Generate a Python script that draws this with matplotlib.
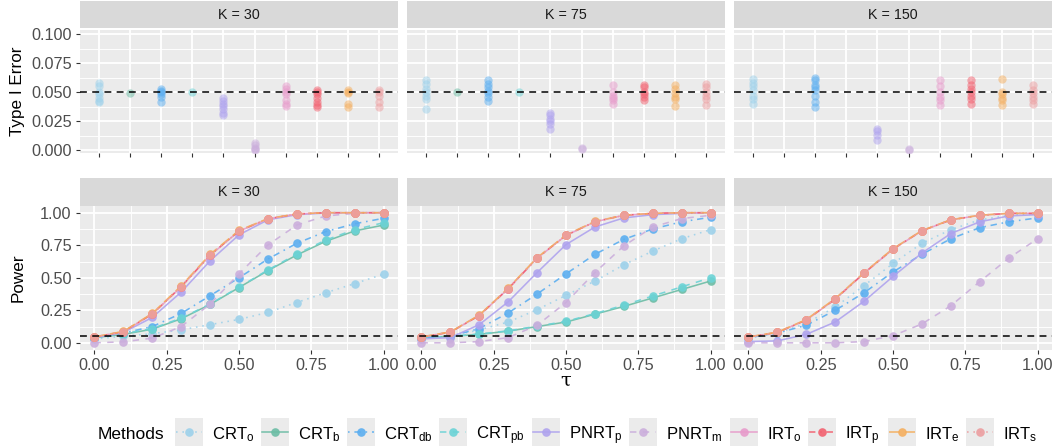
import matplotlib
matplotlib.use("Agg")
import matplotlib.pyplot as plt
from matplotlib.lines import Line2D
from matplotlib.patches import Rectangle

plt.rcParams['font.family'] = ['Liberation Sans', 'DejaVu Sans']
plt.rcParams['mathtext.fontset'] = 'custom'
plt.rcParams['mathtext.rm'] = 'Liberation Sans'
plt.rcParams['mathtext.it'] = 'Liberation Sans:italic'
plt.rcParams['mathtext.bf'] = 'Liberation Sans:bold'

# ---------------- data ----------------
k_values = [30, 75, 150]
methods = ['CRT_o', 'CRT_b', 'CRT_db', 'CRT_pb', 'PNRT_p', 'PNRT_m', 'IRT_o', 'IRT_p', 'IRT_e', 'IRT_s']
method_labels = [r'CRT$_\mathrm{o}$', r'CRT$_\mathrm{b}$', r'CRT$_\mathrm{db}$', r'CRT$_\mathrm{pb}$',
                 r'PNRT$_\mathrm{p}$', r'PNRT$_\mathrm{m}$', r'IRT$_\mathrm{o}$', r'IRT$_\mathrm{p}$',
                 r'IRT$_\mathrm{e}$', r'IRT$_\mathrm{s}$']
tau = [0.0, 0.1, 0.2, 0.3, 0.4, 0.5, 0.6, 0.7, 0.8, 0.9, 1.0]
alpha_level = 0.05

# Type I error (several settings per method)
t1_30_crt_o = [0.058, 0.055, 0.050, 0.048, 0.045, 0.042, 0.041]
t1_30_crt_b = [0.049]
t1_30_crt_db = [0.053, 0.051, 0.050, 0.048, 0.046, 0.041]
t1_30_crt_pb = [0.050]
t1_30_pnrt_p = [0.045, 0.042, 0.040, 0.038, 0.035, 0.032, 0.030]
t1_30_pnrt_m = [0.006, 0.004, 0.002, 0.001, 0.000]
t1_30_irt_o = [0.055, 0.053, 0.050, 0.048, 0.043, 0.040, 0.038]
t1_30_irt_p = [0.052, 0.050, 0.048, 0.045, 0.041, 0.039, 0.037]
t1_30_irt_e = [0.052, 0.050, 0.049, 0.040, 0.037]
t1_30_irt_s = [0.052, 0.050, 0.047, 0.041, 0.037]

t1_75_crt_o = [0.060, 0.057, 0.053, 0.050, 0.047, 0.044, 0.035]
t1_75_crt_b = [0.050]
t1_75_crt_db = [0.060, 0.057, 0.054, 0.051, 0.049, 0.046, 0.042]
t1_75_crt_pb = [0.050]
t1_75_pnrt_p = [0.032, 0.030, 0.027, 0.025, 0.022, 0.018]
t1_75_pnrt_m = [0.001, 0.002]
t1_75_irt_o = [0.056, 0.050, 0.047, 0.045, 0.043, 0.040]
t1_75_irt_p = [0.056, 0.054, 0.050, 0.048, 0.046, 0.043]
t1_75_irt_e = [0.056, 0.053, 0.049, 0.046, 0.044, 0.038]
t1_75_irt_s = [0.057, 0.054, 0.050, 0.047, 0.044, 0.039]

t1_150_crt_o = [0.061, 0.058, 0.055, 0.052, 0.047, 0.044, 0.040]
t1_150_crt_b = []
t1_150_crt_db = [0.062, 0.060, 0.056, 0.054, 0.052, 0.047, 0.041, 0.037]
t1_150_crt_pb = []
t1_150_pnrt_p = [0.018, 0.016, 0.013, 0.009]
t1_150_pnrt_m = [0.000, 0.001]
t1_150_irt_o = [0.060, 0.055, 0.050, 0.046, 0.043, 0.039]
t1_150_irt_p = [0.060, 0.056, 0.053, 0.050, 0.047, 0.044, 0.040]
t1_150_irt_e = [0.061, 0.050, 0.048, 0.045, 0.043, 0.039]
t1_150_irt_s = [0.056, 0.052, 0.049, 0.046, 0.043, 0.040]

# Power curves
pw_30_crt_o = [0.030, 0.050, 0.070, 0.100, 0.140, 0.180, 0.234, 0.310, 0.385, 0.455, 0.528]
pw_30_crt_b = [0.040, 0.065, 0.105, 0.185, 0.295, 0.425, 0.555, 0.675, 0.780, 0.860, 0.905]
pw_30_crt_db = [0.040, 0.075, 0.125, 0.226, 0.362, 0.500, 0.644, 0.765, 0.855, 0.915, 0.957]
pw_30_crt_pb = [0.040, 0.070, 0.110, 0.190, 0.298, 0.428, 0.560, 0.682, 0.790, 0.870, 0.923]
pw_30_pnrt_p = [0.040, 0.080, 0.195, 0.390, 0.630, 0.830, 0.945, 0.985, 0.998, 1.000, 1.000]
pw_30_pnrt_m = [0.000, 0.008, 0.036, 0.125, 0.298, 0.530, 0.752, 0.905, 0.975, 0.995, 1.000]
pw_30_irt_o = [0.045, 0.085, 0.220, 0.430, 0.672, 0.858, 0.952, 0.990, 1.000, 1.000, 1.000]
pw_30_irt_p = [0.045, 0.086, 0.222, 0.432, 0.674, 0.860, 0.953, 0.990, 1.000, 1.000, 1.000]
pw_30_irt_e = [0.046, 0.088, 0.226, 0.438, 0.680, 0.864, 0.955, 0.991, 1.000, 1.000, 1.000]
pw_30_irt_s = [0.045, 0.086, 0.222, 0.432, 0.674, 0.860, 0.953, 0.990, 1.000, 1.000, 1.000]

pw_75_crt_o = [0.040, 0.050, 0.100, 0.160, 0.255, 0.365, 0.475, 0.600, 0.705, 0.800, 0.870]
pw_75_crt_b = [0.040, 0.050, 0.065, 0.090, 0.125, 0.160, 0.220, 0.280, 0.345, 0.410, 0.475]
pw_75_crt_db = [0.040, 0.050, 0.110, 0.230, 0.375, 0.530, 0.680, 0.795, 0.875, 0.930, 0.965]
pw_75_crt_pb = [0.040, 0.050, 0.068, 0.092, 0.128, 0.165, 0.225, 0.290, 0.360, 0.430, 0.500]
pw_75_pnrt_p = [0.030, 0.040, 0.140, 0.315, 0.540, 0.755, 0.890, 0.960, 0.985, 0.995, 1.000]
pw_75_pnrt_m = [0.000, 0.000, 0.010, 0.040, 0.135, 0.310, 0.540, 0.745, 0.890, 0.955, 0.980]
pw_75_irt_o = [0.045, 0.082, 0.210, 0.415, 0.650, 0.825, 0.930, 0.980, 0.995, 1.000, 1.000]
pw_75_irt_p = [0.045, 0.082, 0.210, 0.416, 0.651, 0.826, 0.931, 0.980, 0.995, 1.000, 1.000]
pw_75_irt_e = [0.046, 0.084, 0.214, 0.420, 0.655, 0.829, 0.933, 0.981, 0.995, 1.000, 1.000]
pw_75_irt_s = [0.045, 0.082, 0.210, 0.416, 0.651, 0.826, 0.931, 0.980, 0.995, 1.000, 1.000]

pw_150_crt_o = [0.040, 0.075, 0.150, 0.275, 0.440, 0.610, 0.765, 0.870, 0.945, 0.980, 0.995]
pw_150_crt_b = []
pw_150_crt_db = [0.040, 0.075, 0.135, 0.250, 0.385, 0.545, 0.680, 0.800, 0.885, 0.930, 0.960]
pw_150_crt_pb = []
pw_150_pnrt_p = [0.010, 0.015, 0.065, 0.160, 0.320, 0.510, 0.690, 0.840, 0.930, 0.975, 0.985]
pw_150_pnrt_m = [0.000, 0.000, 0.000, 0.000, 0.010, 0.055, 0.145, 0.285, 0.470, 0.650, 0.800]
pw_150_irt_o = [0.045, 0.080, 0.175, 0.335, 0.535, 0.720, 0.860, 0.945, 0.980, 0.995, 0.995]
pw_150_irt_p = [0.045, 0.080, 0.176, 0.336, 0.536, 0.721, 0.861, 0.945, 0.980, 0.995, 0.995]
pw_150_irt_e = [0.046, 0.082, 0.179, 0.340, 0.540, 0.724, 0.863, 0.946, 0.981, 0.995, 0.996]
pw_150_irt_s = [0.045, 0.080, 0.176, 0.336, 0.536, 0.721, 0.861, 0.945, 0.980, 0.995, 0.995]

t1_data = {
    30: [t1_30_crt_o, t1_30_crt_b, t1_30_crt_db, t1_30_crt_pb, t1_30_pnrt_p, t1_30_pnrt_m,
         t1_30_irt_o, t1_30_irt_p, t1_30_irt_e, t1_30_irt_s],
    75: [t1_75_crt_o, t1_75_crt_b, t1_75_crt_db, t1_75_crt_pb, t1_75_pnrt_p, t1_75_pnrt_m,
         t1_75_irt_o, t1_75_irt_p, t1_75_irt_e, t1_75_irt_s],
    150: [t1_150_crt_o, t1_150_crt_b, t1_150_crt_db, t1_150_crt_pb, t1_150_pnrt_p, t1_150_pnrt_m,
          t1_150_irt_o, t1_150_irt_p, t1_150_irt_e, t1_150_irt_s],
}
pw_data = {
    30: [pw_30_crt_o, pw_30_crt_b, pw_30_crt_db, pw_30_crt_pb, pw_30_pnrt_p, pw_30_pnrt_m,
         pw_30_irt_o, pw_30_irt_p, pw_30_irt_e, pw_30_irt_s],
    75: [pw_75_crt_o, pw_75_crt_b, pw_75_crt_db, pw_75_crt_pb, pw_75_pnrt_p, pw_75_pnrt_m,
         pw_75_irt_o, pw_75_irt_p, pw_75_irt_e, pw_75_irt_s],
    150: [pw_150_crt_o, pw_150_crt_b, pw_150_crt_db, pw_150_crt_pb, pw_150_pnrt_p, pw_150_pnrt_m,
          pw_150_irt_o, pw_150_irt_p, pw_150_irt_e, pw_150_irt_s],
}

# ---------------- styles ----------------
colors = ['#9DD1EA', '#6CBDA5', '#5BAEF0', '#6BD3D6', '#AFA3EE',
          '#CBAEDC', '#E79BCB', '#F2606F', '#F4AE5E', '#EC9EA0']
linestyles = [(0, (1, 3)), '-', (0, (1, 3, 4, 3)), (0, (4, 4)), '-',
              (0, (4, 4)), '-', (0, (4, 3, 1, 3)), (0, (7, 3)), (0, (1, 3))]

W, H = 1058, 448
DPI = 100
fig = plt.figure(figsize=(W / DPI, H / DPI), dpi=DPI)
fig.patch.set_facecolor('white')

PANEL_BG = '#EBEBEB'
STRIP_BG = '#D9D9D9'
TICK_TXT = '#4D4D4D'
TICK_CLR = '#333333'

panel_lefts = [80, 407, 734]
panel_w = 318


def add_axes_px(left, top, width, height):
    return fig.add_axes([left / W, 1 - (top + height) / H, width / W, height / H])


def strip(left, top, width, height, label):
    fig.patches.append(Rectangle((left / W, 1 - (top + height) / H), width / W, height / H,
                                 transform=fig.transFigure, facecolor=STRIP_BG,
                                 edgecolor='none', zorder=0))
    fig.text((left + width / 2) / W, 1 - (top + height / 2) / H, label,
             ha='center', va='center', fontsize=10.3, color='#1A1A1A')


def style_axes(ax):
    ax.set_facecolor(PANEL_BG)
    for s in ax.spines.values():
        s.set_visible(False)
    ax.set_axisbelow(True)
    ax.grid(True, which='major', color='white', linewidth=1.3)
    ax.grid(True, which='minor', color='white', linewidth=0.65)
    ax.tick_params(which='major', length=2.7, width=0.8, color=TICK_CLR,
                   labelsize=11.7, labelcolor=TICK_TXT, pad=3.3)
    ax.tick_params(which='minor', length=0)


# ---------------- top row: type I error ----------------
top_strip = (1, 27.5)
top_panel = (29.8, 123.5)
for j, k in enumerate(k_values):
    left = panel_lefts[j]
    strip(left, top_strip[0], panel_w, top_strip[1], f'K = {k}')
    ax = add_axes_px(left, top_panel[0], panel_w, top_panel[1])
    style_axes(ax)
    for i, vals in enumerate(t1_data[k]):
        if len(vals) == 0:
            continue
        ax.plot([i + 1] * len(vals), vals, linestyle='none', marker='o', markersize=6.0,
                markeredgewidth=0, color=colors[i], alpha=0.5, zorder=3)
    ax.axhline(alpha_level, color='black', linewidth=1.1, linestyle=(0, (4.5, 3.5)), zorder=4)
    ax.set_xlim(0.4, 10.6)
    ax.set_ylim(-0.00285, 0.1037)
    ax.set_xticks(range(1, 11))
    ax.set_xticklabels([])
    ax.set_yticks([0.0, 0.025, 0.05, 0.075, 0.1])
    ax.set_yticks([0.0125, 0.0375, 0.0625, 0.0875], minor=True)
    if j == 0:
        ax.set_yticklabels(['0.000', '0.025', '0.050', '0.075', '0.100'])
    else:
        ax.set_yticklabels([])
        ax.tick_params(axis='y', which='major', length=0)

# ---------------- bottom row: power ----------------
bot_strip = (178.3, 27.4)
bot_panel = (206.2, 143.8)
for j, k in enumerate(k_values):
    left = panel_lefts[j]
    strip(left, bot_strip[0], panel_w, bot_strip[1], f'K = {k}')
    ax = add_axes_px(left, bot_panel[0], panel_w, bot_panel[1])
    style_axes(ax)
    for i, vals in enumerate(pw_data[k]):
        if len(vals) == 0:
            continue
        ax.plot(tau, vals, color=colors[i], linestyle=linestyles[i], linewidth=1.15,
                marker='o', markersize=6.2, markeredgewidth=0, alpha=0.9, zorder=3 + i * 0.01)
    ax.axhline(alpha_level, color='black', linewidth=1.1, linestyle=(0, (4.5, 3.5)), zorder=4)
    ax.set_xlim(-0.05, 1.05)
    ax.set_ylim(-0.055, 1.05)
    ax.set_xticks([0.0, 0.25, 0.5, 0.75, 1.0])
    ax.set_xticks([0.125, 0.375, 0.625, 0.875], minor=True)
    ax.set_xticklabels(['0.00', '0.25', '0.50', '0.75', '1.00'])
    ax.set_yticks([0.0, 0.25, 0.5, 0.75, 1.0])
    ax.set_yticks([0.125, 0.375, 0.625, 0.875], minor=True)
    if j == 0:
        ax.set_yticklabels(['0.00', '0.25', '0.50', '0.75', '1.00'])
    else:
        ax.set_yticklabels([])
        ax.tick_params(axis='y', which='major', length=0)

# axis titles
fig.text(18 / W, 1 - 91.5 / H, 'Type I Error', rotation=90, ha='center', va='center',
         fontsize=12.3, color='black')
fig.text(18 / W, 1 - 278 / H, 'Power', rotation=90, ha='center', va='center',
         fontsize=12.3, color='black')
fig.text(566 / W, 1 - 381 / H, 'τ', ha='center', va='center', fontsize=14,
         family='DejaVu Serif', color='black')

# ---------------- legend (ggplot-style keys) ----------------
baseline = 438.8
fig.text(97.3 / W, 1 - baseline / H, 'Methods', ha='left', va='baseline', fontsize=12.5)
key = 28
key_top = 418.3
key_lefts = [175, 261, 347.3, 439.3, 532.3, 629, 730, 808.3, 887.7, 966]
for i, lab in enumerate(method_labels):
    x = key_lefts[i]
    fig.patches.append(Rectangle((x / W, 1 - (key_top + key) / H), key / W, key / H,
                                 transform=fig.transFigure, facecolor=PANEL_BG,
                                 edgecolor='none', zorder=1))
    yc = 1 - (key_top + key / 2) / H
    fig.lines.append(Line2D([(x + 1) / W, (x + key - 1) / W], [yc, yc], transform=fig.transFigure,
                            color=colors[i], linestyle=linestyles[i], linewidth=1.15,
                            alpha=0.9, zorder=2))
    fig.lines.append(Line2D([(x + key / 2) / W], [yc], transform=fig.transFigure,
                            color=colors[i], marker='o', markersize=6.2, markeredgewidth=0,
                            linestyle='none', alpha=0.9, zorder=3))
    fig.text((x + key + 9) / W, 1 - baseline / H, lab, ha='left', va='baseline', fontsize=12.0)

fig.savefig('out.png', dpi=DPI, facecolor='white')
